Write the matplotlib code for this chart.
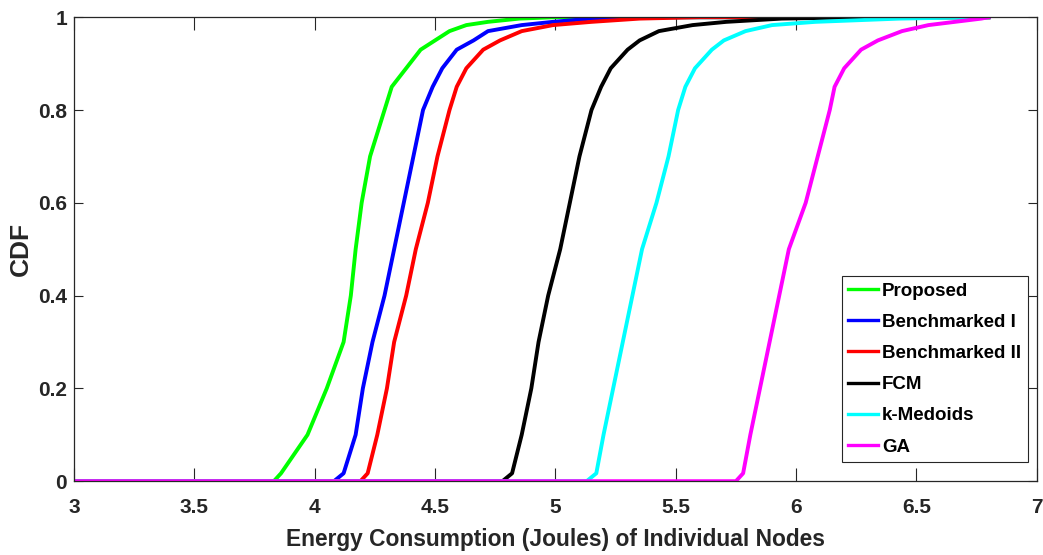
import numpy as np
import matplotlib
matplotlib.use("Agg")
from matplotlib import pyplot as plt

plt.rcParams['font.family'] = ['Liberation Sans', 'DejaVu Sans']
plt.rcParams['font.weight'] = 'bold'

# CDF levels and the energy values (J) at which each scheme reaches them
cdf_levels = [0, 0.017, 0.1, 0.2, 0.3, 0.4, 0.5, 0.6, 0.7, 0.8, 0.85, 0.89,
              0.93, 0.95, 0.97, 0.983, 0.99, 0.997, 1.0]

proposed = [3.83, 3.86, 3.97, 4.05, 4.12, 4.15, 4.17, 4.195, 4.23, 4.29, 4.32,
            4.38, 4.44, 4.50, 4.56, 4.63, 4.72, 4.85, 5.0]
bench_1 = [4.08, 4.12, 4.17, 4.20, 4.24, 4.29, 4.33, 4.37, 4.41, 4.45, 4.49,
           4.53, 4.59, 4.66, 4.72, 4.86, 4.99, 5.15, 5.4]
bench_2 = [4.19, 4.22, 4.26, 4.30, 4.33, 4.38, 4.42, 4.47, 4.51, 4.56, 4.59,
           4.63, 4.70, 4.77, 4.86, 4.99, 5.15, 5.35, 5.6]
fcm = [4.78, 4.82, 4.86, 4.90, 4.93, 4.97, 5.02, 5.06, 5.10, 5.15, 5.19,
       5.23, 5.30, 5.35, 5.43, 5.57, 5.71, 5.94, 6.3]
k_medoids = [5.13, 5.17, 5.20, 5.24, 5.28, 5.32, 5.36, 5.42, 5.47, 5.51, 5.54,
             5.58, 5.65, 5.70, 5.79, 5.90, 6.08, 6.43, 6.75]
ga = [5.75, 5.78, 5.81, 5.85, 5.89, 5.93, 5.97, 6.04, 6.09, 6.14, 6.16,
      6.20, 6.27, 6.34, 6.44, 6.55, 6.66, 6.77, 6.80]

x_start, x_end = 3.0, 6.8

series = [
    ("Proposed", proposed, "#00ff00"),
    ("Benchmarked I", bench_1, "#0000ff"),
    ("Benchmarked II", bench_2, "#ff0000"),
    ("FCM", fcm, "#000000"),
    ("k-Medoids", k_medoids, "#00ffff"),
    ("GA", ga, "#ff00ff"),
]

fig = plt.figure(figsize=(10.43, 5.55), dpi=100)
ax = fig.add_axes([0.071, 0.133, 0.923, 0.836])

for name, vals, col in series:
    xs = np.concatenate([[x_start], vals, [x_end]])
    ys = np.concatenate([[0], cdf_levels, [1]])
    ax.plot(xs, ys, color=col, linewidth=2.8, label=name, solid_joinstyle='round')

ax.set_xlim(3, 7)
ax.set_ylim(0, 1)
ax.set_xticks(np.arange(3, 7.01, 0.5))
ax.set_xticklabels(['3', '3.5', '4', '4.5', '5', '5.5', '6', '6.5', '7'])
ax.set_yticks([0, 0.2, 0.4, 0.6, 0.8, 1])
ax.set_yticklabels(['0', '0.2', '0.4', '0.6', '0.8', '1'])

ax.tick_params(axis='both', direction='in', top=True, right=True,
               labelsize=15, colors='#262626', width=0.8)
ax.tick_params(axis='x', length=9.5, pad=12)
ax.tick_params(axis='y', length=6.5, pad=5)
for s in ax.spines.values():
    s.set_linewidth(0.9)
    s.set_color('#262626')

ax.set_xlabel('Energy Consumption (Joules) of Individual Nodes', fontsize=16.4,
              fontweight='bold', color='#262626', labelpad=8)
ax.set_ylabel('CDF', fontsize=19, fontweight='bold', color='#262626', labelpad=4)

leg = ax.legend(loc='lower right', bbox_to_anchor=(0.9906, 0.041), fontsize=13.5,
                handlelength=1.6, handletextpad=0.2, borderpad=0.35,
                labelspacing=0.75, fancybox=False, framealpha=1,
                edgecolor='#262626', borderaxespad=0)
leg.get_frame().set_linewidth(0.8)
for line in leg.get_lines():
    line.set_linewidth(2.4)
for t in leg.get_texts():
    t.set_fontweight('bold')

fig.savefig("out.png", dpi=100)
